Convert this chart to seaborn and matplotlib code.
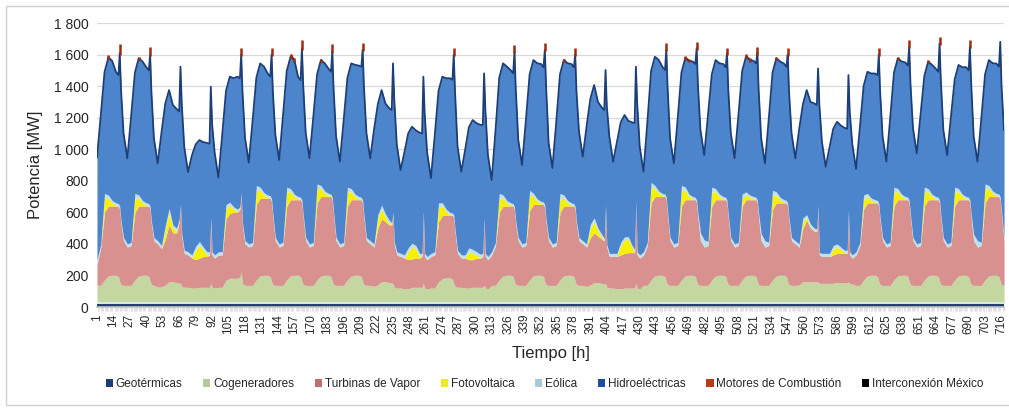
import numpy as np
import pandas as pd
import seaborn as sns
import matplotlib.pyplot as plt
from matplotlib.patches import Patch, Rectangle

# horas del día que se leyeron del gráfico (0-23), 30 días
horas_dia = [0, 3, 6, 9, 12, 15, 17, 18, 19, 21]
n_dias = 30
horas = [24 * d + h + 1 for d in range(n_dias) for h in horas_dia]

# Potencia [MW] por tecnología, una fila por día
cogeneradores = [
    117, 115, 150, 175, 180, 180, 170, 140, 120, 115,
    115, 115, 150, 175, 180, 180, 170, 140, 120, 115,
    105, 105, 118, 138, 138, 133, 128, 128, 108, 103,
    103, 98, 98, 103, 103, 103, 103, 128, 103, 98,
    103, 103, 148, 160, 160, 160, 168, 202, 128, 115,
    115, 115, 150, 175, 180, 180, 170, 140, 120, 115,
    115, 115, 150, 175, 180, 180, 170, 140, 120, 115,
    115, 115, 150, 175, 180, 180, 170, 140, 120, 115,
    115, 115, 150, 175, 180, 180, 170, 140, 120, 115,
    115, 108, 118, 138, 138, 133, 128, 128, 103, 98,
    98, 93, 93, 103, 103, 103, 103, 128, 98, 93,
    98, 98, 138, 158, 163, 163, 153, 128, 108, 103,
    103, 98, 98, 103, 103, 103, 103, 118, 98, 93,
    115, 115, 150, 175, 180, 180, 170, 140, 120, 115,
    115, 115, 150, 175, 180, 180, 170, 140, 120, 115,
    115, 115, 150, 175, 180, 180, 170, 140, 120, 115,
    115, 108, 118, 133, 133, 128, 123, 128, 103, 98,
    98, 93, 93, 98, 98, 98, 98, 128, 98, 93,
    115, 115, 150, 175, 180, 180, 170, 140, 120, 115,
    115, 115, 150, 175, 180, 180, 170, 140, 120, 115,
    115, 115, 150, 175, 180, 180, 170, 140, 120, 115,
    115, 115, 150, 175, 180, 180, 170, 140, 120, 115,
    115, 115, 150, 175, 180, 180, 170, 140, 120, 115,
    115, 118, 138, 138, 138, 138, 138, 138, 128, 128,
    128, 128, 128, 133, 133, 133, 128, 138, 128, 123,
    115, 115, 150, 175, 180, 180, 170, 140, 120, 115,
    115, 115, 150, 175, 180, 180, 170, 140, 120, 115,
    115, 115, 150, 175, 180, 180, 170, 140, 120, 115,
    115, 115, 150, 175, 180, 180, 170, 140, 120, 115,
    115, 115, 150, 175, 180, 180, 170, 140, 120, 115,
]

turbinas_vapor = [
    127, 243, 428, 443, 438, 438, 448, 458, 388, 283,
    243, 253, 428, 443, 438, 438, 448, 458, 388, 283,
    273, 243, 290, 360, 310, 315, 390, 490, 320, 215,
    205, 190, 180, 185, 195, 195, 205, 400, 205, 190,
    205, 205, 390, 412, 418, 418, 430, 486, 370, 263,
    243, 253, 478, 493, 488, 488, 498, 508, 438, 283,
    243, 253, 468, 483, 478, 478, 488, 498, 428, 283,
    243, 253, 488, 503, 498, 498, 508, 518, 448, 283,
    243, 253, 468, 483, 478, 478, 488, 498, 428, 283,
    263, 250, 360, 400, 380, 365, 370, 440, 275, 210,
    200, 195, 185, 180, 185, 185, 195, 445, 200, 185,
    200, 210, 380, 400, 395, 395, 405, 420, 350, 215,
    185, 190, 180, 175, 185, 185, 195, 411, 200, 185,
    193, 253, 428, 443, 438, 438, 448, 458, 388, 283,
    243, 253, 438, 453, 448, 448, 458, 468, 398, 283,
    243, 253, 428, 443, 438, 438, 448, 458, 388, 283,
    263, 250, 300, 315, 295, 280, 275, 486, 255, 200,
    200, 205, 215, 220, 225, 225, 225, 509, 210, 195,
    193, 253, 488, 503, 498, 498, 508, 518, 448, 283,
    243, 253, 468, 483, 478, 478, 488, 498, 428, 283,
    243, 253, 468, 483, 478, 478, 488, 498, 428, 283,
    243, 253, 468, 483, 478, 478, 488, 498, 428, 283,
    243, 253, 448, 463, 458, 458, 468, 478, 408, 283,
    263, 240, 340, 390, 340, 320, 320, 476, 180, 170,
    170, 170, 180, 185, 185, 185, 190, 444, 180, 165,
    193, 253, 448, 463, 458, 458, 468, 478, 408, 283,
    243, 253, 468, 483, 478, 478, 488, 498, 428, 283,
    243, 253, 468, 483, 478, 478, 488, 498, 428, 283,
    243, 253, 468, 483, 478, 478, 488, 498, 428, 283,
    243, 253, 488, 503, 498, 498, 508, 518, 448, 283,
]

fotovoltaica = [
    0, 0, 90, 50, 20, 5, 0, 0, 0, 0,
    0, 0, 90, 50, 20, 5, 0, 0, 0, 0,
    0, 0, 60, 80, 30, 10, 0, 0, 0, 0,
    0, 0, 60, 80, 40, 10, 0, 0, 0, 0,
    0, 0, 65, 50, 20, 5, 0, 0, 0, 0,
    0, 0, 90, 50, 20, 5, 0, 0, 0, 0,
    0, 0, 90, 50, 20, 5, 0, 0, 0, 0,
    0, 0, 90, 50, 20, 5, 0, 0, 0, 0,
    0, 0, 90, 50, 20, 5, 0, 0, 0, 0,
    0, 0, 60, 60, 30, 10, 0, 0, 0, 0,
    0, 0, 50, 75, 60, 10, 0, 0, 0, 0,
    0, 0, 90, 60, 25, 5, 0, 0, 0, 0,
    0, 0, 50, 40, 20, 5, 0, 0, 0, 0,
    0, 0, 90, 50, 20, 5, 0, 0, 0, 0,
    0, 0, 100, 50, 20, 5, 0, 0, 0, 0,
    0, 0, 90, 50, 20, 5, 0, 0, 0, 0,
    0, 0, 60, 70, 30, 10, 0, 0, 0, 0,
    0, 0, 60, 85, 85, 30, 0, 0, 0, 0,
    0, 0, 100, 50, 20, 5, 0, 0, 0, 0,
    0, 0, 100, 60, 20, 5, 0, 0, 0, 0,
    0, 0, 90, 50, 20, 5, 0, 0, 0, 0,
    0, 0, 50, 30, 15, 5, 0, 0, 0, 0,
    0, 0, 90, 50, 20, 5, 0, 0, 0, 0,
    0, 0, 40, 15, 5, 0, 0, 0, 0, 0,
    0, 0, 40, 40, 25, 5, 0, 0, 0, 0,
    0, 0, 60, 40, 15, 5, 0, 0, 0, 0,
    0, 0, 90, 50, 20, 5, 0, 0, 0, 0,
    0, 0, 90, 50, 20, 5, 0, 0, 0, 0,
    0, 0, 90, 50, 20, 5, 0, 0, 0, 0,
    0, 0, 90, 50, 20, 5, 0, 0, 0, 0,
]

eolica = [
    32, 20, 30, 20, 15, 15, 15, 15, 15, 20,
    20, 20, 30, 20, 15, 15, 15, 15, 15, 20,
    20, 20, 25, 25, 20, 20, 15, 10, 15, 20,
    20, 20, 25, 25, 20, 20, 20, 15, 20, 20,
    20, 20, 25, 20, 15, 15, 15, 10, 15, 20,
    20, 20, 30, 20, 15, 15, 15, 15, 15, 20,
    20, 20, 30, 20, 15, 15, 15, 15, 15, 20,
    20, 20, 30, 20, 15, 15, 15, 15, 15, 20,
    20, 20, 30, 20, 15, 15, 15, 15, 15, 20,
    20, 20, 25, 25, 20, 20, 15, 10, 15, 20,
    20, 20, 25, 25, 20, 20, 20, 10, 20, 20,
    20, 20, 30, 20, 15, 15, 15, 15, 15, 20,
    20, 20, 25, 25, 20, 20, 20, 10, 20, 20,
    20, 20, 30, 20, 15, 15, 15, 15, 15, 20,
    20, 20, 30, 20, 15, 15, 15, 15, 15, 20,
    20, 20, 30, 20, 15, 15, 15, 15, 15, 20,
    20, 20, 25, 25, 20, 20, 15, 10, 15, 20,
    20, 20, 20, 20, 15, 15, 20, 10, 20, 20,
    20, 20, 30, 20, 15, 15, 15, 15, 15, 20,
    20, 20, 30, 20, 15, 15, 15, 15, 25, 50,
    45, 25, 30, 20, 15, 15, 15, 15, 15, 20,
    20, 20, 25, 20, 15, 15, 15, 15, 25, 45,
    40, 20, 30, 20, 15, 15, 15, 15, 15, 20,
    20, 20, 25, 20, 20, 20, 15, 10, 15, 20,
    20, 20, 20, 20, 15, 15, 20, 10, 20, 20,
    20, 20, 30, 20, 15, 15, 15, 15, 15, 20,
    20, 20, 30, 20, 15, 15, 15, 15, 15, 20,
    20, 20, 30, 20, 15, 15, 15, 15, 15, 20,
    20, 20, 30, 20, 15, 15, 15, 15, 15, 40,
    40, 20, 30, 20, 15, 15, 15, 15, 15, 20,
]

hidroelectricas = [
    647, 812, 770, 870, 885, 830, 815, 975, 835, 662,
    542, 798, 766, 866, 881, 860, 845, 965, 825, 630,
    490, 715, 775, 750, 760, 755, 685, 873, 825, 655,
    505, 630, 645, 643, 665, 690, 685, 831, 810, 650,
    470, 740, 720, 796, 815, 840, 815, 880, 835, 655,
    515, 769, 684, 784, 799, 770, 755, 915, 775, 652,
    532, 797, 736, 836, 851, 758, 743, 965, 825, 663,
    543, 794, 695, 795, 810, 791, 776, 925, 785, 641,
    521, 773, 694, 794, 820, 830, 828, 955, 815, 662,
    522, 724, 700, 730, 700, 710, 713, 944, 899, 678,
    528, 650, 725, 738, 730, 765, 760, 855, 890, 657,
    477, 737, 710, 800, 830, 850, 845, 1015, 875, 658,
    528, 665, 765, 820, 815, 820, 813, 920, 910, 645,
    455, 705, 734, 834, 849, 841, 826, 985, 845, 620,
    500, 769, 735, 845, 860, 870, 855, 985, 845, 601,
    481, 758, 755, 855, 870, 880, 865, 965, 825, 673,
    533, 744, 795, 842, 800, 805, 813, 856, 877, 741,
    581, 705, 760, 772, 735, 780, 801, 854, 943, 688,
    508, 754, 706, 816, 831, 802, 787, 935, 795, 630,
    510, 780, 716, 816, 845, 856, 845, 965, 815, 653,
    538, 801, 715, 815, 830, 840, 825, 935, 795, 662,
    542, 802, 781, 856, 856, 860, 849, 935, 785, 605,
    490, 780, 746, 846, 861, 863, 848, 945, 805, 662,
    522, 724, 720, 790, 775, 790, 785, 866, 937, 709,
    549, 670, 740, 774, 770, 775, 770, 856, 890, 705,
    525, 724, 691, 771, 790, 800, 795, 945, 805, 641,
    521, 786, 726, 826, 841, 850, 835, 975, 835, 694,
    574, 808, 705, 805, 820, 811, 796, 995, 855, 683,
    563, 793, 684, 784, 805, 820, 805, 975, 835, 621,
    501, 781, 695, 795, 810, 823, 808, 986, 795, 680,
]

motores_combustion = [
    0, 0, 0, 15, 0, 0, 0, 55, 0, 0,
    0, 0, 0, 10, 0, 0, 0, 50, 0, 0,
    0, 0, 0, 0, 0, 0, 0, 0, 0, 0,
    0, 0, 0, 0, 0, 0, 0, 0, 0, 0,
    0, 0, 0, 0, 0, 0, 0, 40, 0, 0,
    0, 0, 0, 0, 0, 0, 0, 40, 0, 0,
    0, 0, 0, 20, 10, 0, 0, 52, 0, 0,
    0, 0, 0, 10, 0, 0, 0, 45, 0, 0,
    0, 0, 0, 0, 0, 0, 0, 41, 0, 0,
    0, 0, 0, 0, 0, 0, 0, 0, 0, 0,
    0, 0, 0, 0, 0, 0, 0, 0, 0, 0,
    0, 0, 0, 0, 0, 0, 0, 40, 0, 0,
    0, 0, 0, 0, 0, 0, 0, 0, 0, 0,
    0, 0, 0, 0, 0, 0, 0, 40, 0, 0,
    0, 0, 0, 0, 0, 0, 0, 41, 0, 0,
    0, 0, 0, 10, 0, 0, 0, 40, 0, 0,
    0, 0, 0, 0, 0, 0, 0, 0, 0, 0,
    0, 0, 0, 0, 0, 0, 0, 0, 0, 0,
    0, 0, 0, 0, 0, 0, 0, 41, 0, 0,
    0, 0, 0, 15, 10, 0, 0, 41, 0, 0,
    0, 0, 0, 0, 0, 0, 0, 30, 0, 0,
    0, 0, 0, 15, 10, 0, 0, 40, 0, 0,
    0, 0, 0, 10, 0, 0, 0, 40, 0, 0,
    0, 0, 0, 0, 0, 0, 0, 0, 0, 0,
    0, 0, 0, 0, 0, 0, 0, 0, 0, 0,
    0, 0, 0, 0, 0, 0, 0, 40, 0, 0,
    0, 0, 0, 10, 0, 0, 0, 42, 0, 0,
    0, 0, 0, 10, 0, 0, 0, 43, 0, 0,
    0, 0, 0, 0, 0, 0, 0, 42, 0, 0,
    0, 0, 0, 0, 0, 0, 0, 0, 0, 0,
]

# geotérmica casi constante y sin importación desde México en el mes
geotermicas = [22] * len(horas)
interconexion_mexico = [0] * len(horas)

nombres = ["Geotérmicas", "Cogeneradores", "Turbinas de Vapor", "Fotovoltaica",
           "Eólica", "Hidroeléctricas", "Motores de Combustión", "Interconexión México"]
colores = ["#1f3b70", "#c4d7a0", "#d8918e", "#f7f000",
           "#bfe1ec", "#4d85cd", "#9c2c0e", "#000000"]
colores_leyenda = ["#1f3b70", "#b5c99c", "#c0706c", "#f0ea20",
                   "#a9c7d8", "#1f4f9a", "#b83a16", "#000000"]

df = pd.DataFrame({
    "hora": horas,
    nombres[0]: geotermicas,
    nombres[1]: cogeneradores,
    nombres[2]: turbinas_vapor,
    nombres[3]: fotovoltaica,
    nombres[4]: eolica,
    nombres[5]: hidroelectricas,
    nombres[6]: motores_combustion,
    nombres[7]: interconexion_mexico,
})

sns.set_theme(style="whitegrid")
plt.rcParams["font.family"] = ["Liberation Sans", "DejaVu Sans"]

fig = plt.figure(figsize=(10.09, 4.08), dpi=100)
ax = fig.add_axes([0.0961, 0.2475, 0.899, 0.6961])

ax.stackplot(df["hora"], *[df[n] for n in nombres], colors=colores, linewidth=0)

# bordes: línea clara sobre la geotérmica y borde oscuro de las hidroeléctricas
acum = df[nombres].cumsum(axis=1)
sns.lineplot(x=df["hora"], y=acum["Geotérmicas"] + 2, color="#d8f0f0", lw=1.2, ax=ax)
sns.lineplot(x=df["hora"], y=acum["Hidroeléctricas"], color="#1d3f78", lw=1.3, ax=ax)

# puntas de los motores de combustión sobre el borde oscuro
con_motor = df["Motores de Combustión"] > 0
ax.vlines(df.loc[con_motor, "hora"], acum.loc[con_motor, "Hidroeléctricas"] - 10,
          acum.loc[con_motor, "Motores de Combustión"], color=colores[6], lw=1.8, zorder=4)

ax.set_xlim(1, 718)
ax.set_ylim(0, 1800)
ax.set_yticks(range(0, 1801, 200))
ax.set_yticklabels([f"{v:,}".replace(",", " ") for v in range(0, 1801, 200)], fontsize=10)
ticks_x = list(range(1, 717, 13))
ax.set_xticks(ticks_x)
ax.set_xticklabels([str(t) for t in ticks_x], rotation=90, fontsize=8.5)
ax.set_xticks(range(1, 719), minor=True)
ax.tick_params(axis="x", which="major", length=3, color="#c8c8c8", pad=2)
ax.tick_params(axis="x", which="minor", length=3, color="#d4d4d4", width=0.5, bottom=True)
ax.tick_params(axis="y", length=0, pad=6)
ax.grid(axis="x", visible=False)
ax.grid(axis="y", color="#d9d9d9", lw=0.9)
ax.set_axisbelow(True)
for s in ["top", "right", "left"]:
    ax.spines[s].set_visible(False)
ax.spines["bottom"].set_color("#bfbfbf")

ax.set_ylabel("Potencia [MW]", fontsize=12, labelpad=8)
ax.set_xlabel("Tiempo [h]", fontsize=12, labelpad=9)

handles = [Patch(facecolor=c, edgecolor="none") for c in colores_leyenda]
fig.legend(handles, nombres, loc="center", bbox_to_anchor=(0.54, 0.058), ncol=8,
           frameon=False, fontsize=8.5, handlelength=0.6, handleheight=0.6,
           handletextpad=0.25, columnspacing=1.75)

fig.patches.append(Rectangle((0.006, 0.008), 1.0, 0.978, transform=fig.transFigure,
                             fill=False, edgecolor="#d0d0d0", lw=1))

fig.savefig("out.png", dpi=100)
